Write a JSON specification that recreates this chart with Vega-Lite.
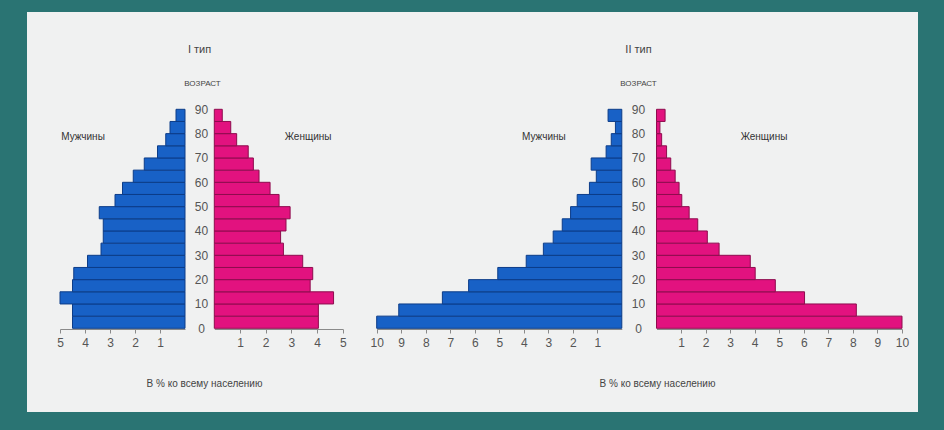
{
  "$schema": "https://vega.github.io/schema/vega-lite/v6.json",
  "width": 891,
  "height": 400,
  "autosize": {"type": "none"},
  "padding": {"left": 27, "top": 12, "right": 26, "bottom": 18},
  "background": "#2a7473",
  "config": {
    "view": {"stroke": null, "fill": "#f0f1f1"},
    "font": "Liberation Sans",
    "axis": {
      "grid": false,
      "labelFont": "Liberation Sans",
      "labelFontSize": 12,
      "labelColor": "#555555",
      "domainColor": "#8a8a8a",
      "tickColor": "#8a8a8a",
      "tickSize": 4,
      "labelFlush": false,
      "labelOverlap": false,
      "titleFont": "Liberation Sans",
      "titleFontWeight": "normal",
      "titleColor": "#444444"
    }
  },
  "datasets": {
    "maleI": [
      {"age": 0, "age_end": 5, "pct": 4.5},
      {"age": 5, "age_end": 10, "pct": 4.5},
      {"age": 10, "age_end": 15, "pct": 5.0},
      {"age": 15, "age_end": 20, "pct": 4.5},
      {"age": 20, "age_end": 25, "pct": 4.45},
      {"age": 25, "age_end": 30, "pct": 3.9},
      {"age": 30, "age_end": 35, "pct": 3.36},
      {"age": 35, "age_end": 40, "pct": 3.27},
      {"age": 40, "age_end": 45, "pct": 3.27},
      {"age": 45, "age_end": 50, "pct": 3.43},
      {"age": 50, "age_end": 55, "pct": 2.8},
      {"age": 55, "age_end": 60, "pct": 2.5},
      {"age": 60, "age_end": 65, "pct": 2.07},
      {"age": 65, "age_end": 70, "pct": 1.63},
      {"age": 70, "age_end": 75, "pct": 1.1},
      {"age": 75, "age_end": 80, "pct": 0.77},
      {"age": 80, "age_end": 85, "pct": 0.6},
      {"age": 85, "age_end": 90, "pct": 0.36}
    ],
    "femaleI": [
      {"age": 0, "age_end": 5, "pct": 4.05},
      {"age": 5, "age_end": 10, "pct": 4.05},
      {"age": 10, "age_end": 15, "pct": 4.64},
      {"age": 15, "age_end": 20, "pct": 3.73},
      {"age": 20, "age_end": 25, "pct": 3.83},
      {"age": 25, "age_end": 30, "pct": 3.44},
      {"age": 30, "age_end": 35, "pct": 2.69},
      {"age": 35, "age_end": 40, "pct": 2.58},
      {"age": 40, "age_end": 45, "pct": 2.79},
      {"age": 45, "age_end": 50, "pct": 2.95},
      {"age": 50, "age_end": 55, "pct": 2.52},
      {"age": 55, "age_end": 60, "pct": 2.17},
      {"age": 60, "age_end": 65, "pct": 1.74},
      {"age": 65, "age_end": 70, "pct": 1.52},
      {"age": 70, "age_end": 75, "pct": 1.32},
      {"age": 75, "age_end": 80, "pct": 0.87},
      {"age": 80, "age_end": 85, "pct": 0.64},
      {"age": 85, "age_end": 90, "pct": 0.31}
    ],
    "maleII": [
      {"age": 0, "age_end": 5, "pct": 10.0},
      {"age": 5, "age_end": 10, "pct": 9.1},
      {"age": 10, "age_end": 15, "pct": 7.32},
      {"age": 15, "age_end": 20, "pct": 6.25},
      {"age": 20, "age_end": 25, "pct": 5.06},
      {"age": 25, "age_end": 30, "pct": 3.9},
      {"age": 30, "age_end": 35, "pct": 3.2},
      {"age": 35, "age_end": 40, "pct": 2.8},
      {"age": 40, "age_end": 45, "pct": 2.43},
      {"age": 45, "age_end": 50, "pct": 2.09},
      {"age": 50, "age_end": 55, "pct": 1.82},
      {"age": 55, "age_end": 60, "pct": 1.32},
      {"age": 60, "age_end": 65, "pct": 1.04},
      {"age": 65, "age_end": 70, "pct": 1.25},
      {"age": 70, "age_end": 75, "pct": 0.64},
      {"age": 75, "age_end": 80, "pct": 0.43},
      {"age": 80, "age_end": 85, "pct": 0.26},
      {"age": 85, "age_end": 90, "pct": 0.56}
    ],
    "femaleII": [
      {"age": 0, "age_end": 5, "pct": 10.0},
      {"age": 5, "age_end": 10, "pct": 8.14},
      {"age": 10, "age_end": 15, "pct": 6.03},
      {"age": 15, "age_end": 20, "pct": 4.84},
      {"age": 20, "age_end": 25, "pct": 4.02},
      {"age": 25, "age_end": 30, "pct": 3.82},
      {"age": 30, "age_end": 35, "pct": 2.55},
      {"age": 35, "age_end": 40, "pct": 2.07},
      {"age": 40, "age_end": 45, "pct": 1.68},
      {"age": 45, "age_end": 50, "pct": 1.33},
      {"age": 50, "age_end": 55, "pct": 1.03},
      {"age": 55, "age_end": 60, "pct": 0.92},
      {"age": 60, "age_end": 65, "pct": 0.76},
      {"age": 65, "age_end": 70, "pct": 0.58},
      {"age": 70, "age_end": 75, "pct": 0.41},
      {"age": 75, "age_end": 80, "pct": 0.21},
      {"age": 80, "age_end": 85, "pct": 0.14},
      {"age": 85, "age_end": 90, "pct": 0.35}
    ]
  },
  "resolve": {
    "scale": {"x": "independent"},
    "axis": {"x": "independent", "y": "independent"}
  },
  "layer": [
    {
      "data": {"name": "maleI"},
      "mark": {"type": "rect", "fill": "#1861c6", "stroke": "#0c3c88", "strokeWidth": 1},
      "encoding": {
        "x": {
          "field": "pct", "type": "quantitative",
          "scale": {"domain": [0, 5], "range": [158, 33]},
          "axis": {
            "orient": "bottom", "offset": -83, "values": [1, 2, 3, 4, 5],
            "labelPadding": 4,
            "title": "В % ко всему населению",
            "titleX": 177, "titleY": 54, "titleAlign": "center", "titleBaseline": "middle",
            "titleFontSize": 10
          }
        },
        "x2": {"datum": 0},
        "y": {"field": "age", "type": "quantitative", "scale": {"domain": [0, 90], "range": [316.3, 97.3]}, "axis": null},
        "y2": {"field": "age_end"}
      }
    },
    {
      "data": {"name": "femaleI"},
      "mark": {"type": "rect", "fill": "#e2127f", "stroke": "#8e0c4e", "strokeWidth": 1},
      "encoding": {
        "x": {
          "field": "pct", "type": "quantitative",
          "scale": {"domain": [0, 5], "range": [187.3, 315.8]},
          "axis": {
            "orient": "bottom", "offset": -83, "values": [1, 2, 3, 4, 5],
            "labelPadding": 4,
            "title": "I тип",
            "titleX": 172, "titleY": -280, "titleAlign": "center", "titleBaseline": "middle",
            "titleFontSize": 11
          }
        },
        "x2": {"datum": 0},
        "y": {
          "field": "age", "type": "quantitative",
          "scale": {"domain": [0, 90], "range": [316.3, 97.3]},
          "axis": {
            "orient": "left", "offset": -174,
            "values": [0, 10, 20, 30, 40, 50, 60, 70, 80, 90],
            "ticks": false, "tickSize": 0, "domain": false,
            "labelAlign": "center", "labelBaseline": "middle", "labelPadding": 0,
            "title": "ВОЗРАСТ", "titleAngle": 0, "titleX": 1, "titleY": 71,
            "titleAlign": "center", "titleBaseline": "middle",
            "titleFontSize": 8, "titleFont": "Liberation Sans"
          }
        },
        "y2": {"field": "age_end"}
      }
    },
    {
      "data": {"name": "maleII"},
      "mark": {"type": "rect", "fill": "#1861c6", "stroke": "#0c3c88", "strokeWidth": 1},
      "encoding": {
        "x": {
          "field": "pct", "type": "quantitative",
          "scale": {"domain": [0, 10], "range": [594.8, 349.7]},
          "axis": {
            "orient": "bottom", "offset": -83, "values": [1, 2, 3, 4, 5, 6, 7, 8, 9, 10],
            "labelPadding": 4,
            "title": "В % ко всему населению",
            "titleX": 630, "titleY": 54, "titleAlign": "center", "titleBaseline": "middle",
            "titleFontSize": 10
          }
        },
        "x2": {"datum": 0},
        "y": {"field": "age", "type": "quantitative", "scale": {"domain": [0, 90], "range": [316.3, 97.3]}, "axis": null},
        "y2": {"field": "age_end"}
      }
    },
    {
      "data": {"name": "femaleII"},
      "mark": {"type": "rect", "fill": "#e2127f", "stroke": "#8e0c4e", "strokeWidth": 1},
      "encoding": {
        "x": {
          "field": "pct", "type": "quantitative",
          "scale": {"domain": [0, 10], "range": [629.5, 875]},
          "axis": {
            "orient": "bottom", "offset": -83, "values": [1, 2, 3, 4, 5, 6, 7, 8, 9, 10],
            "labelPadding": 4,
            "title": "II тип",
            "titleX": 611, "titleY": -280, "titleAlign": "center", "titleBaseline": "middle",
            "titleFontSize": 11
          }
        },
        "x2": {"datum": 0},
        "y": {
          "field": "age", "type": "quantitative",
          "scale": {"domain": [0, 90], "range": [316.3, 97.3]},
          "axis": {
            "orient": "left", "offset": -611,
            "values": [0, 10, 20, 30, 40, 50, 60, 70, 80, 90],
            "ticks": false, "tickSize": 0, "domain": false,
            "labelAlign": "center", "labelBaseline": "middle", "labelPadding": 0,
            "title": "ВОЗРАСТ", "titleAngle": 0, "titleX": 0, "titleY": 71,
            "titleAlign": "center", "titleBaseline": "middle",
            "titleFontSize": 8, "titleFont": "Liberation Sans"
          }
        },
        "y2": {"field": "age_end"}
      }
    },
    {
      "data": {"values": [{"label": "Мужчины"}]},
      "mark": {"type": "text", "fontSize": 10, "color": "#333333", "font": "Liberation Sans"},
      "encoding": {
        "x": {"datum": 4.08, "type": "quantitative", "scale": {"domain": [0, 5], "range": [158, 33]}, "axis": null},
        "y": {"datum": 78.6, "type": "quantitative", "scale": {"domain": [0, 90], "range": [316.3, 97.3]}, "axis": null},
        "text": {"field": "label"}
      }
    },
    {
      "data": {"values": [{"label": "Женщины"}]},
      "mark": {"type": "text", "fontSize": 10, "color": "#333333", "font": "Liberation Sans"},
      "encoding": {
        "x": {"datum": 3.65, "type": "quantitative", "scale": {"domain": [0, 5], "range": [187.3, 315.8]}, "axis": null},
        "y": {"datum": 78.6, "type": "quantitative", "scale": {"domain": [0, 90], "range": [316.3, 97.3]}, "axis": null},
        "text": {"field": "label"}
      }
    },
    {
      "data": {"values": [{"label": "Мужчины"}]},
      "mark": {"type": "text", "fontSize": 10, "color": "#333333", "font": "Liberation Sans"},
      "encoding": {
        "x": {"datum": 3.18, "type": "quantitative", "scale": {"domain": [0, 10], "range": [594.8, 349.7]}, "axis": null},
        "y": {"datum": 78.6, "type": "quantitative", "scale": {"domain": [0, 90], "range": [316.3, 97.3]}, "axis": null},
        "text": {"field": "label"}
      }
    },
    {
      "data": {"values": [{"label": "Женщины"}]},
      "mark": {"type": "text", "fontSize": 10, "color": "#333333", "font": "Liberation Sans"},
      "encoding": {
        "x": {"datum": 4.38, "type": "quantitative", "scale": {"domain": [0, 10], "range": [629.5, 875]}, "axis": null},
        "y": {"datum": 78.6, "type": "quantitative", "scale": {"domain": [0, 90], "range": [316.3, 97.3]}, "axis": null},
        "text": {"field": "label"}
      }
    }
  ]
}
